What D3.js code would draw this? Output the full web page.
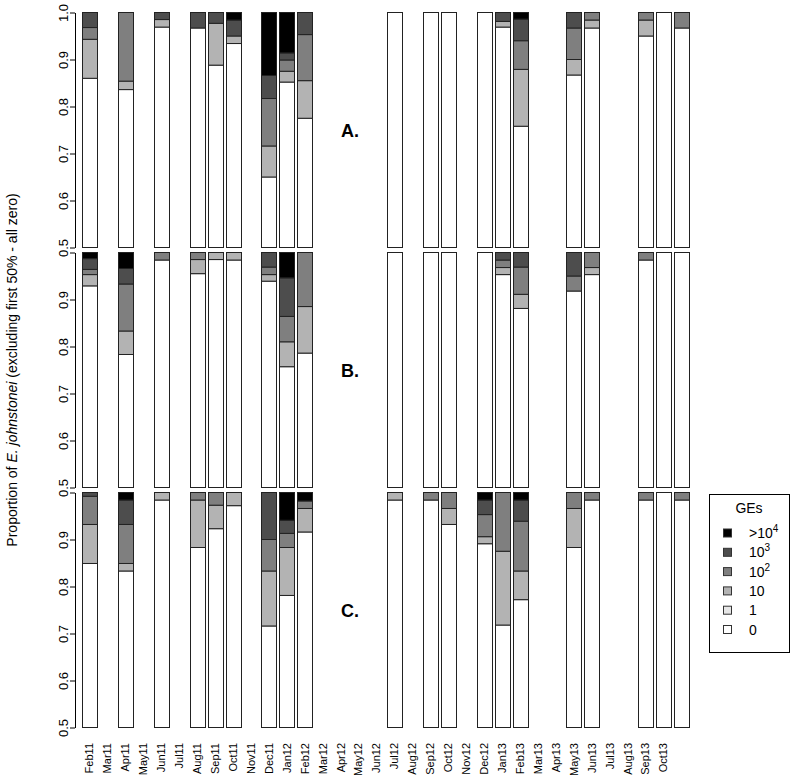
<!DOCTYPE html>
<html lang="en">
<head>
<meta charset="UTF-8">
<title>E. johnstonei GEs</title>
<style>
  body { margin: 0; background: #fff; }
  text { font-family: "Liberation Sans", Arial, sans-serif; }
</style>
</head>
<body>
<svg id="svg" width="794" height="777"></svg>
<script src="https://d3js.org/d3.v7.min.js"></script>
<script>
// month labels along the bottom
const months = ["Feb11","Mar11","Apr11","May11","Jun11","Jul11","Aug11","Sep11","Oct11","Nov11","Dec11",
  "Jan12","Feb12","Mar12","Apr12","May12","Jun12","Jul12","Aug12","Sep12","Oct12","Nov12","Dec12",
  "Jan13","Feb13","Mar13","Apr13","May13","Jun13","Jul13","Aug13","Sep13","Oct13"]

// GE classes, bottom to top
const classes = ["0", "1", "10", "10^2", "10^3", ">10^4"]
const classColors = ["#ffffff", "#e6e6e6", "#b3b3b3", "#7f7f7f", "#4d4d4d", "#000000"]

// sampling occasions (month slot of each bar)
const slots = [0, 2, 4, 6, 7, 8, 10, 11, 12, 17, 19, 20, 22, 23, 24, 27, 28, 31, 32, 33]

// proportions per bar: [0, 1, 10, 10^2, 10^3, >10^4]
const panelA = [
  [0.860, 0, 0.083, 0.025, 0.032, 0],
  [0.836, 0, 0.018, 0.146, 0, 0],
  [0.969, 0, 0.016, 0, 0.015, 0],
  [0.967, 0, 0, 0, 0.033, 0],
  [0.888, 0, 0.089, 0, 0.023, 0],
  [0.934, 0, 0.016, 0, 0.034, 0.016],
  [0.650, 0, 0.066, 0.101, 0.049, 0.134],
  [0.852, 0, 0.023, 0.024, 0.015, 0.086],
  [0.775, 0, 0.080, 0.098, 0.047, 0],
  [1, 0, 0, 0, 0, 0],
  [1, 0, 0, 0, 0, 0],
  [1, 0, 0, 0, 0, 0],
  [1, 0, 0, 0, 0, 0],
  [0.969, 0, 0.012, 0, 0.019, 0],
  [0.758, 0, 0.121, 0.061, 0.046, 0.014],
  [0.867, 0, 0.033, 0.067, 0.033, 0],
  [0.967, 0, 0.017, 0.016, 0, 0],
  [0.950, 0, 0.034, 0.016, 0, 0],
  [1, 0, 0, 0, 0, 0],
  [0.967, 0, 0, 0.033, 0, 0]
]
const panelB = [
  [0.929, 0, 0.024, 0.011, 0.023, 0.013],
  [0.783, 0, 0.050, 0.100, 0.033, 0.034],
  [0.984, 0, 0, 0.016, 0, 0],
  [0.955, 0, 0.030, 0.015, 0, 0],
  [0.985, 0, 0.015, 0, 0, 0],
  [0.984, 0, 0.016, 0, 0, 0],
  [0.939, 0, 0.014, 0.016, 0.031, 0],
  [0.757, 0, 0.053, 0.054, 0.082, 0.054],
  [0.786, 0, 0.099, 0.115, 0, 0],
  [1, 0, 0, 0, 0, 0],
  [1, 0, 0, 0, 0, 0],
  [1, 0, 0, 0, 0, 0],
  [1, 0, 0, 0, 0, 0],
  [0.953, 0, 0.015, 0.016, 0.016, 0],
  [0.881, 0, 0.030, 0.058, 0.031, 0],
  [0.918, 0, 0, 0.032, 0.050, 0],
  [0.953, 0, 0.015, 0.032, 0, 0],
  [0.984, 0, 0, 0.016, 0, 0],
  [1, 0, 0, 0, 0, 0],
  [1, 0, 0, 0, 0, 0]
]
const panelC = [
  [0.849, 0, 0.083, 0.060, 0.008, 0],
  [0.833, 0, 0.016, 0.083, 0.052, 0.016],
  [0.984, 0, 0.016, 0, 0, 0],
  [0.883, 0, 0.101, 0.016, 0, 0],
  [0.923, 0, 0.050, 0.027, 0, 0],
  [0.972, 0, 0.028, 0, 0, 0],
  [0.716, 0, 0.117, 0.067, 0.100, 0],
  [0.781, 0, 0.102, 0.030, 0.028, 0.059],
  [0.916, 0, 0.050, 0.016, 0, 0.018],
  [0.984, 0, 0.016, 0, 0, 0],
  [0.984, 0, 0, 0.016, 0, 0],
  [0.932, 0, 0.034, 0.034, 0, 0],
  [0.891, 0, 0.015, 0.047, 0.031, 0.016],
  [0.718, 0, 0.157, 0.125, 0, 0],
  [0.772, 0, 0.061, 0.106, 0.045, 0.016],
  [0.883, 0, 0.083, 0.034, 0, 0],
  [0.984, 0, 0, 0.016, 0, 0],
  [0.984, 0, 0, 0.016, 0, 0],
  [1, 0, 0, 0, 0, 0],
  [0.984, 0, 0, 0.016, 0, 0]
]

const panelLabels = ["A.", "B.", "C."]
const yTicks = [0.5, 0.6, 0.7, 0.8, 0.9, 1.0]

const svg = d3.select('#svg')

// month slot -> bar centre
const xScale = d3.scaleLinear()
  .domain([0, 33])
  .range([89.5, 681.5])
const step = xScale(1) - xScale(0)
const barW = step / 1.2

const panels = [panelA, panelB, panelC]
const panelTops = [12.5, 252.5, 492.5]
const panelH = 235

const stack = d3.stack().keys(d3.range(6))

panels.forEach((rows, p) => {
  const yScale = d3.scaleLinear()
    .domain([0.5, 1])
    .range([panelTops[p] + panelH, panelTops[p]])

  const g = svg.append('g')

  // y axis, labels turned like R's default; the 1.0 label of lower panels
  // collides with the 0.5 above it, so only the top panel shows it
  g.append('g')
    .attr('transform', 'translate(75,0)')
    .call(d3.axisLeft(yScale).tickValues(yTicks)
      .tickFormat(d => (p > 0 && d === 1) ? '' : d3.format('.1f')(d))
      .tickSizeInner(5).tickSizeOuter(0))
    .call(a => a.selectAll('text')
      .attr('x', 0).attr('y', 0).attr('dy', 0)
      .attr('transform', 'translate(-7,0) rotate(-90)')
      .style('text-anchor', 'middle')
      .style('font-size', '13px')
      .style('font-family', '"Liberation Sans", Arial, sans-serif'))
    .call(a => a.selectAll('path, line').attr('stroke', '#000'))

  const series = stack(rows)
  series.forEach((s, k) => {
    g.selectAll(null)
      .data(s.map((d, i) => ({ lo: d[0], hi: d[1], slot: slots[i] })).filter(d => d.hi - d.lo > 0))
      .enter()
      .append('rect')
      .attr('x', d => Math.round(xScale(d.slot) - barW / 2) + 0.5)
      .attr('width', Math.round(barW))
      .attr('y', d => yScale(d.hi))
      .attr('height', d => yScale(Math.max(0.5, d.lo)) - yScale(d.hi))
      .attr('fill', classColors[k])
      .attr('stroke', '#222')
      .attr('stroke-width', 1)
  })

  g.append('text')
    .text(panelLabels[p])
    .attr('x', 350)
    .attr('y', panelTops[p] + 124)
    .attr('text-anchor', 'middle')
    .style('font-weight', 'bold')
    .style('font-size', '18px')
})

// month labels
svg.append('g')
  .selectAll('text')
  .data(months)
  .enter()
  .append('text')
  .text(d => d)
  .attr('transform', (d, i) => `translate(${xScale(i)},743) rotate(-90)`)
  .attr('dy', '0.35em')
  .attr('text-anchor', 'end')
  .style('font-size', '11px')

// y title
const yTitle = svg.append('text')
  .attr('transform', 'translate(12,370) rotate(-90)')
  .attr('text-anchor', 'middle')
  .attr('dy', '0.35em')
  .style('font-size', '14px')
yTitle.append('tspan').text('Proportion of ')
yTitle.append('tspan').text('E. johnstonei').style('font-style', 'italic')
yTitle.append('tspan').text(' (excluding first 50% - all zero)')

// legend
const legend = svg.append('g')
legend.append('rect')
  .attr('x', 709.5).attr('y', 494.5)
  .attr('width', 80).attr('height', 158)
  .attr('fill', 'none').attr('stroke', '#000')
legend.append('text')
  .text('GEs')
  .attr('x', 749).attr('y', 513)
  .attr('text-anchor', 'middle')
  .style('font-size', '14px')

const legendOrder = d3.range(6).reverse()
legendOrder.forEach((k, j) => {
  const cy = 533 + j * 19.3
  legend.append('rect')
    .attr('x', 723.5).attr('y', cy - 4)
    .attr('width', 8).attr('height', 8)
    .attr('fill', classColors[k]).attr('stroke', '#333')
  const t = legend.append('text')
    .attr('x', 749).attr('y', cy + 5)
    .style('font-size', '14px')
  const lab = classes[k]
  if (lab.includes('^')) {
    const [base, sup] = lab.split('^')
    t.append('tspan').text(base)
    t.append('tspan').text(sup).attr('dy', '-6').style('font-size', '10px')
  } else {
    t.text(lab)
  }
})
</script>
</body>
</html>
